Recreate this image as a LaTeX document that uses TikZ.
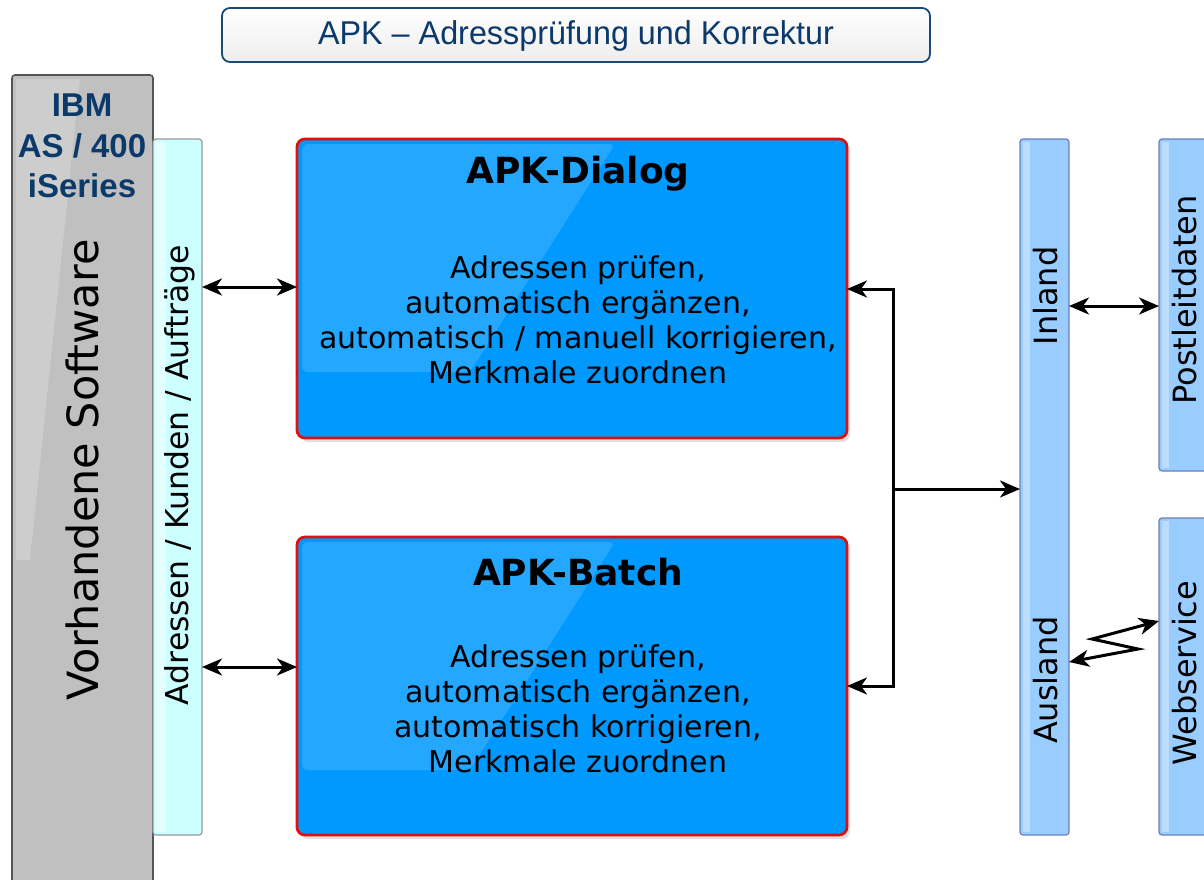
\documentclass[tikz,border=0pt]{standalone}
\usepackage{fontspec}
\setmainfont{DejaVu Sans}
\newfontfamily\arialf{Liberation Sans}
\usetikzlibrary{arrows.meta,shadows}
\definecolor{navy}{HTML}{0B3A6A}
\definecolor{titleborder}{HTML}{1A4A7A}
\definecolor{grayfill}{HTML}{C0C0C0}
\definecolor{grayline}{HTML}{555555}
\definecolor{cyanfill}{HTML}{CCFFFF}
\definecolor{cyanline}{HTML}{999999}
\definecolor{boxblue}{HTML}{0099FF}
\definecolor{boxred}{HTML}{E01010}
\definecolor{stripfill}{HTML}{99CCFF}
\definecolor{stripline}{HTML}{6C7FB5}
\begin{document}
\begin{tikzpicture}[x=1pt,y=-1pt,
  base/.style={inner sep=0pt,outer sep=0pt,anchor=north west},
  titlebox/.style={base,draw=titleborder,line width=1.8pt,rounded corners=8pt,top color=white,bottom color=black!7},
  graybox/.style={base,draw=grayline,line width=1.6pt,fill=grayfill,rounded corners=3pt},
  cyanbox/.style={base,draw=cyanline,line width=1.2pt,fill=cyanfill,rounded corners=3pt},
  mainbox/.style={base,draw=boxred,line width=2.8pt,fill=boxblue,rounded corners=8pt,drop shadow={shadow xshift=3pt,shadow yshift=-4pt,opacity=0.25}},
  stripbox/.style={base,draw=stripline,line width=1.2pt,fill=stripfill,rounded corners=3pt},
  gloss/.style={fill=white,opacity=0.14},
  boxtitle/.style={font=\bfseries\fontsize{36}{42}\selectfont,text=black},
  boxbody/.style={font=\fontsize{30}{35}\selectfont,text=black,align=center},
  vlabel/.style={rotate=90,font=\fontsize{32}{36}\selectfont,text=black,inner sep=1pt},
  tip/.tip={Stealth[length=20pt,width=17pt,inset=6pt]},
  arr/.style={line width=3pt,black,arrows={tip-tip}},
  arrone/.style={line width=3pt,black,-tip}
]
\useasboundingbox (0,0) rectangle (1204,879);
\fill[white] (0,0) rectangle (1204,879);

% title
\node[titlebox,minimum width=708pt,minimum height=54pt] (title) at (222,8) {};
\node[font=\arialf\fontsize{33}{36}\selectfont,text=navy,xscale=0.98] (titletext) at (576,36) {APK – Adressprüfung und Korrektur};

% existing software (gray)
\node[graybox,minimum width=141pt,minimum height=820pt] (as400) at (12,75) {};
\fill[white,opacity=0.22] (16,79) -- (80,79) -- (30,560) -- (16,560) -- cycle;
\node[font=\arialf\bfseries\fontsize{33}{40.5}\selectfont,text=navy,align=center] (ibm) at (82,146) {IBM\\AS / 400\\iSeries};
\node[rotate=90,font=\fontsize{43}{48}\selectfont,text=black] (vorh) at (82,470) {Vorhandene Software};

% cyan strip
\node[cyanbox,minimum width=49pt,minimum height=696pt] (strip) at (153,139) {};
\fill[white,opacity=0.5] (156,142) rectangle (166,832);
\node[rotate=90,font=\fontsize{31.5}{34}\selectfont,text=black] (striptext) at (180,475) {Adressen / Kunden / Aufträge};

% APK-Dialog
\node[mainbox,minimum width=550pt,minimum height=299pt] (dlg) at (297,139) {};
\fill[gloss,rounded corners=6pt] (302,144) -- (615,144) -- (470,372) -- (302,372) -- cycle;
\node[boxtitle] (dlgtitle) at (578,174) {APK-Dialog};
\node[boxbody] (dlgbody) at (578,320) {Adressen prüfen,\\automatisch ergänzen,\\automatisch / manuell korrigieren,\\Merkmale zuordnen};

% APK-Batch
\node[mainbox,minimum width=550pt,minimum height=298pt] (batch) at (297,537) {};
\fill[gloss,rounded corners=6pt] (302,542) -- (615,542) -- (470,770) -- (302,770) -- cycle;
\node[boxtitle] (batchtitle) at (578,572) {APK-Batch};
\node[boxbody] (batchbody) at (578,709) {Adressen prüfen,\\automatisch ergänzen,\\automatisch korrigieren,\\Merkmale zuordnen};

% Inland / Ausland strip
\node[stripbox,minimum width=49pt,minimum height=696pt] (inaus) at (1020,139) {};
\fill[white,opacity=0.35] (1023,142) rectangle (1030,832);
\node[vlabel] (inland) at (1046,296) {Inland};
\node[vlabel] (ausland) at (1046,680) {Ausland};

% Postleitdaten
\node[stripbox,minimum width=70pt,minimum height=332pt] (plz) at (1159,139) {};
\fill[white,opacity=0.35] (1162,142) rectangle (1169,468);
\node[vlabel] (plztext) at (1185,300) {Postleitdaten};

% Webservice
\node[stripbox,minimum width=70pt,minimum height=317pt] (web) at (1159,518) {};
\fill[white,opacity=0.35] (1162,521) rectangle (1169,832);
\node[vlabel] (webtext) at (1185,673) {Webservice};

% connectors
\coordinate (ya) at (0,287);
\coordinate (yb) at (0,667);
\draw[arr] (strip.east |- ya) -- (dlg.west |- ya);
\draw[arr] (strip.east |- yb) -- (batch.west |- yb);

\coordinate (jt) at (893,289);
\coordinate (jb) at (893,686);
\coordinate (jm) at (893,489);
\draw[arr,line join=miter] (dlg.east |- jt) -- (jt) -- (jb) -- (batch.east |- jb);
\draw[arrone] (jm) -- (inaus.west |- jm);

\coordinate (yp) at (0,306);
\draw[arr] (inaus.east |- yp) -- (plz.west |- yp);

\coordinate (z0) at (0,662);
\coordinate (z1) at (1138,649);
\coordinate (z2) at (1092,639);
\coordinate (z3) at (0,621);
\draw[arr] (inaus.east |- z0) -- (z1) -- (z2) -- (web.west |- z3);
\end{tikzpicture}
\end{document}
